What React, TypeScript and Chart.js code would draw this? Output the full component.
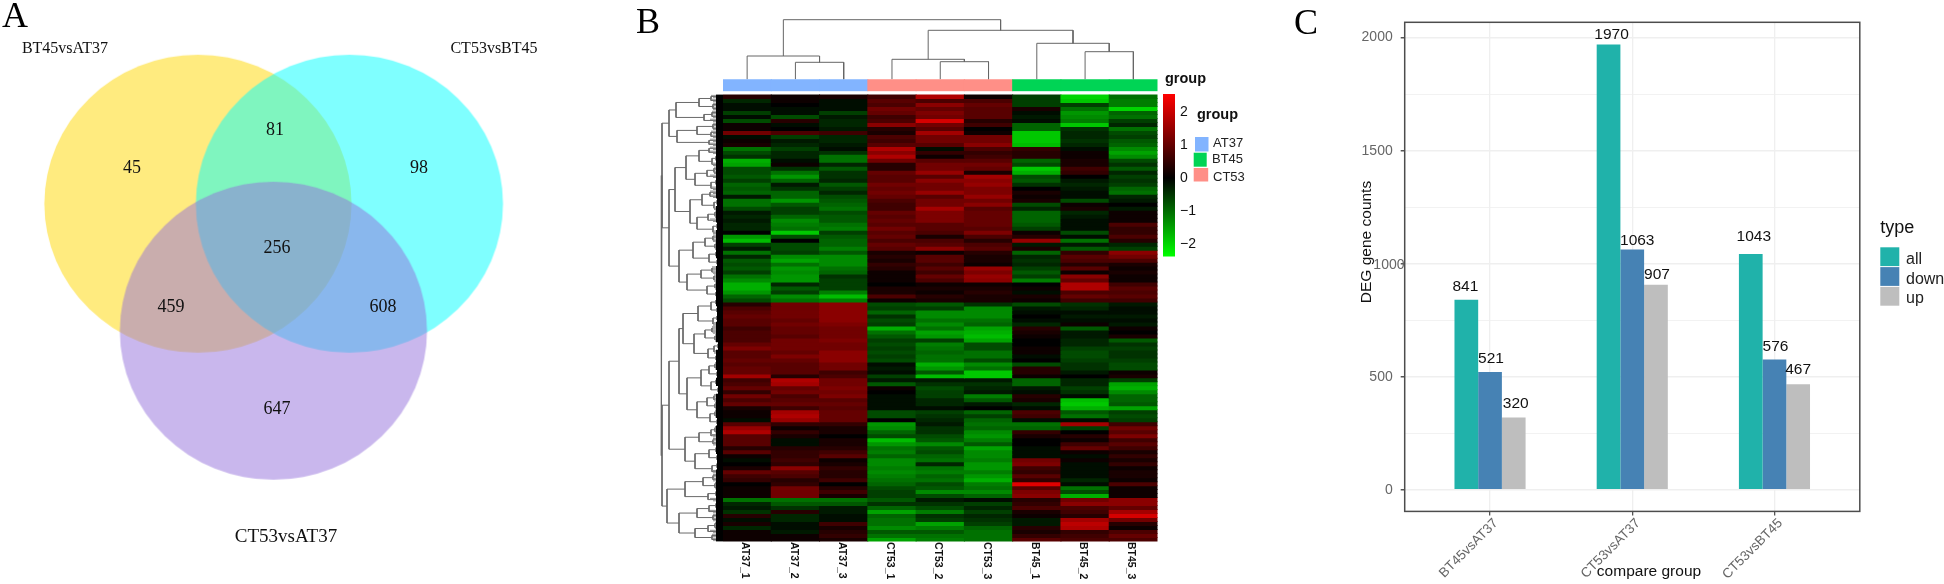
import React, { useEffect, useRef } from "react";
import { Chart, registerables } from "chart.js";

Chart.register(...registerables);

const SANS = "'Liberation Sans', Arial, sans-serif";
const SERIF = "'Liberation Serif', 'Times New Roman', serif";

/* ---------- Panel A: Venn ---------- */
const setNames = ["BT45vsAT37", "CT53vsBT45", "CT53vsAT37"];
const setColors = ["rgba(255,215,0,0.5)", "rgba(0,255,255,0.5)", "rgba(147,112,219,0.5)"];
const setCenters = [
  { x: 197.9, y: 203.7 },
  { x: 349.4, y: 203.7 },
  { x: 273.4, y: 330.7 },
];
const setLabelAnchors = [
  { x: 65, y: 49 },
  { x: 494, y: 49 },
  { x: 286, y: 537 },
];
const setLabelSizes = [16, 16, 19];
const regionCounts = ["45", "81", "98", "256", "459", "608", "647"];
const regionAnchors = [
  { x: 132, y: 168 },
  { x: 275, y: 130 },
  { x: 419, y: 168 },
  { x: 277, y: 248 },
  { x: 171, y: 307.5 },
  { x: 383, y: 307.5 },
  { x: 277, y: 409 },
];

/* ---------- Panel B: heatmap (values in tenths of a z-score, one per row band) ---------- */
const sampleNames = ["AT37_1", "AT37_2", "AT37_3", "CT53_1", "CT53_2", "CT53_3", "BT45_1", "BT45_2", "BT45_3"];
const AT37_1 = [
  3,-3,-1,-1,-5,-1,-6,1,1,9,-1,1,2,-9,-6,-4,-14,-13,-6,-6,-7,-5,-8,-7,-8,-2,-9,-9,
  -6,-2,-3,-2,-3,-3,0,-12,-15,-5,-2,-9,-3,-7,-6,-7,-5,-9,-11,-14,-14,-12,-8,-6,3,6,7,8,
  7,7,5,6,6,6,8,10,7,7,8,7,8,8,13,5,6,8,4,9,6,8,2,1,1,-1,7,12,
  14,7,7,7,3,7,1,-1,0,2,8,5,4,0,1,1,1,-9,-3,-2,-4,3,-1,2,-3,1,1,1,
];
const AT37_2 = [
  1,1,0,-1,-1,-6,3,-1,0,6,-5,-2,-3,-5,-3,-3,-1,1,-4,-9,-12,-8,-2,-4,-8,-8,-12,-7,
  -5,-5,-8,-11,-10,-9,-16,-6,0,-6,-6,-5,-11,-13,-9,-12,-11,-12,-12,-3,-7,-5,-11,-9,9,9,9,9,
  8,9,8,8,7,9,9,9,8,10,8,7,7,7,3,14,13,8,9,6,7,8,5,13,14,12,4,1,
  4,2,-1,-1,3,4,4,5,4,11,7,6,3,4,9,9,9,-9,-7,-4,3,-3,-3,-1,-1,-2,1,1,
];
const AT37_3 = [
  2,-1,-1,-1,-5,-2,-3,-3,-2,5,-3,-3,-2,-1,-4,-9,-9,-3,-7,-4,-4,-3,-7,-5,-3,-6,-7,-8,
  -9,-6,-7,-7,-9,-10,-5,-7,-8,-8,-10,-7,-11,-11,-11,-9,-8,-4,-5,-5,-5,-10,-15,-10,11,11,11,11,
  11,10,9,9,9,10,9,9,11,11,11,9,9,5,6,9,9,10,9,10,7,8,7,8,8,8,4,2,
  2,0,2,2,3,5,7,1,2,4,3,3,5,0,3,5,2,-9,-7,-2,-2,-1,-1,5,2,3,4,2,
];
const CT53_1 = [
  5,7,6,9,8,5,6,11,3,2,6,5,7,14,11,14,9,3,3,8,7,7,9,8,9,8,6,5,
  5,8,7,8,7,9,7,8,6,8,7,2,3,2,4,3,1,1,1,0,2,2,6,1,-6,-5,-8,-4,
  -6,-5,-14,-9,-7,-5,-6,-5,-6,-5,-6,-1,-2,-1,-5,-2,-7,1,0,-1,-1,-1,-1,-6,-6,0,-12,-11,
  -8,-6,-15,-12,-9,-10,-8,-11,-11,-10,-11,-10,-9,-8,-6,-5,-5,-7,-4,-8,-13,-8,-9,-9,-11,-7,-9,-13,
];
const CT53_2 = [
  14,6,11,8,10,9,17,9,7,13,9,9,7,-1,4,1,7,9,9,12,7,11,9,9,12,7,9,9,
  13,10,10,10,7,7,6,2,6,7,11,1,7,7,5,7,5,8,6,1,2,1,3,2,-7,-5,-11,-11,
  -9,-11,-9,-13,-12,-5,-10,-9,-8,-9,-9,-14,-12,-7,-15,-2,-4,-6,-5,-5,-3,-3,-1,-5,-4,-3,-2,-4,
  -4,-6,-7,-11,-7,-6,-8,-9,-3,-9,-10,-8,-9,-6,-7,-11,-6,-2,-4,-6,-10,-4,-5,-13,-10,-7,-9,-10,
];
const CT53_3 = [
  1,6,8,7,7,7,3,5,0,1,9,9,11,6,4,5,7,9,8,2,13,11,12,10,10,12,9,11,
  7,8,8,8,8,7,10,6,3,6,7,3,2,2,1,12,10,12,11,1,2,3,2,2,-4,-11,-11,-11,
  -9,-8,-13,-14,-15,-13,-6,-6,-9,-9,-6,-11,-9,-16,-16,-2,-4,-3,-2,-10,-7,-2,0,-8,-5,-8,-9,-8,
  -11,-12,-10,-7,-13,-11,-11,-10,-12,-12,-10,-12,-14,-10,-9,-11,-8,-1,-5,-3,-5,-3,-4,-5,-8,-9,-9,-9,
];
const BT45_1 = [
  -5,-5,-5,2,-1,-2,-1,-8,-8,-16,-16,-16,-15,4,3,3,-8,-6,-16,-14,-6,-7,-4,0,2,1,2,-6,
  -3,-8,-8,-8,-7,-5,1,3,12,-2,2,-8,-3,-4,-3,-5,-7,-5,-10,0,1,-1,2,1,-6,-2,-1,0,
  -1,-3,3,2,1,0,0,1,1,-1,0,-6,3,3,1,-8,-8,-2,-1,3,2,-3,-1,6,5,-1,-9,-8,
  4,2,0,0,-1,-1,-1,9,10,5,4,7,4,18,7,10,11,3,4,6,2,1,-2,-2,3,2,4,7,
];
const BT45_2 = [
  -17,-16,-5,-9,-12,-11,-10,-16,-4,-3,-3,-4,-3,-1,1,1,2,2,5,4,0,-2,-3,-2,-1,-1,-6,1,
  2,-3,-2,-1,-1,-1,-6,-1,-9,-2,-7,4,7,6,3,7,1,11,8,14,14,6,8,5,-4,-3,-1,-2,
  -1,1,-7,-2,-2,-3,-3,-5,-6,-6,-5,-4,-4,-2,0,-3,-3,-5,-4,-1,-15,-16,-14,-7,-9,-1,13,-5,
  0,3,1,5,8,1,-1,1,-1,-1,-1,-1,-3,-1,-9,-6,-14,9,11,6,5,3,13,15,14,4,5,6,
];
const BT45_3 = [
  -9,-10,-10,-17,-8,-9,-5,-3,-9,-6,-5,-7,-8,-11,-13,-11,-6,-4,-7,-3,-5,-4,-5,-8,-9,-3,-2,0,
  -2,1,1,1,6,4,4,6,3,-3,-5,11,9,6,2,1,2,1,1,5,7,6,7,5,-2,-1,-1,-2,
  -1,-2,1,0,2,-7,-4,-5,-4,-4,-5,-6,-6,1,2,-5,-13,-14,-11,-8,-8,-7,-13,-5,-6,-5,5,9,
  7,10,5,7,5,2,4,2,4,1,2,2,1,6,1,1,1,11,11,8,13,17,9,3,1,6,8,6,
];
const heatmapColumns = [AT37_1, AT37_2, AT37_3, CT53_1, CT53_2, CT53_3, BT45_1, BT45_2, BT45_3];

/* dendrograms: [merge height, child, child], 0 = a leaf */
const columnTree: any = [59.6, [23.3, 0, [17, 0, 0]], [49, [20, 0, [17.6, 0, 0]], [36, 0, [27.6, 0, 0]]]];
const rowTreeTop: any = [54,
  [47, [24, [12, 0, 0], [10, 0, 0]], [19, [11, 0, 0], 0]],
  [46, [26, [10, 0, 0], [12, 0, 0]], [14, 0, 0]],
];
const rowTreeMid: any = [54,
  [48,
    [37, [24, [14, 0, 0], [11, [7, 0, 0], 0]], [28, [16, [9, 0, 0], 0], [12, [7, 0, 0], 0]]],
    [33, [21, [13, 0, 0], [9, [6, 0, 0], 0]], [26, [15, [8, 0, 0], 0], [10, [6, 0, 0], 0]]],
  ],
  [44, [30, [18, [10, 0, 0], [8, 0, 0]], [14, [7, 0, 0], [6, 0, 0]]], [36, [22, [11, 0, 0], [9, 0, 0]], [16, [8, 0, 0], [7, 0, 0]]]],
];
const rowTreeLow: any = [54,
  [44,
    [40, [25, [12, [7, 0, 0], [6, 0, 0]], [10, [6, 0, 0], 0]], [29, [18, [11, 0, 0], [8, 0, 0]], [15, [9, [5, 0, 0], 0], [7, 0, 0]]]],
    [36, [22, [14, [8, 0, 0], [6, 0, 0]], [12, [7, 0, 0], [5, 0, 0]]], [26, [16, [9, 0, 0], [8, 0, 0]], [13, [8, 0, 0], [6, 0, 0]]]],
  ],
  [38, [24, [12, [8, 0, 0], 0], [10, 0, 0]], [28, [14, [7, 0, 0], [6, 0, 0]], [11, [6, 0, 0], 0]]],
];
const rowTreeBottom: any = [56,
  [38, [20, [10, 0, 0], [8, 0, 0]], [15, [7, 0, 0], 0]],
  [44, [26, [14, [7, 0, 0], 0], [10, 0, 0]], [28, [15, [8, 0, 0], 0], [11, 0, 0]]],
];
const rowTree: any = [62, [61, rowTreeTop, rowTreeMid], [61, rowTreeLow, rowTreeBottom]];

const groupNames = ["AT37", "BT45", "CT53"];
const groupColors: Record<string, string> = { AT37: "#82B4FF", BT45: "#00D455", CT53: "#FF8F87" };
const sampleGroups = ["AT37", "AT37", "AT37", "CT53", "CT53", "CT53", "BT45", "BT45", "BT45"];
const colorbarTicks = [-2, -1, 0, 1, 2];
const colorbarRange = [-2.39, 2.55];

/* ---------- Panel C: grouped bars ---------- */
const compareGroups = ["BT45vsAT37", "CT53vsAT37", "CT53vsBT45"];
const allCounts = [841, 1970, 1043];
const downCounts = [521, 1063, 576];
const upCounts = [320, 907, 467];
const typeNames = ["all", "down", "up"];
const typeColors = ["#20B2AA", "#4682B4", "#BEBEBE"];
const countTicks = [0, 250, 500, 750, 1000, 1250, 1500, 1750, 2000];
const labelLift = [[13.4, 9.7, 17], [13, 9, 13], [13.4, 10, 14]];
const labelShift = [[-1, 3, 3], [1, 5, 1], [2, 1, 0]];

/* ---------- helpers ---------- */
type Txt = { text: string; x: number; y: number; font: string; color?: string; align?: CanvasTextAlign; rotate?: number; base?: CanvasTextBaseline };
const textPlugin = (id: string, items: (chart: any) => Txt[]) => ({
  id,
  afterDraw(chart: any) {
    const c = chart.ctx;
    items(chart).forEach((t) => {
      c.save();
      c.translate(t.x, t.y);
      if (t.rotate) c.rotate(t.rotate);
      c.font = t.font;
      c.fillStyle = t.color || "#000";
      c.textAlign = t.align || "center";
      c.textBaseline = t.base || "middle";
      c.fillText(t.text, 0, 0);
      c.restore();
    });
  },
});

const treeLines = (tree: any, leafPos: (i: number) => number) => {
  const lines: any[] = [];
  const leaves: { pos: number; parent: number }[] = [];
  let n = 0;
  const walk = (t: any): { pos: number; h: number; leaf: boolean } => {
    if (t === 0) {
      const pos = leafPos(n++);
      return { pos, h: 0, leaf: true };
    }
    const [h, a, b] = t;
    const ca = walk(a);
    const cb = walk(b);
    lines.push({ p: ca.pos, h: ca.h }, { p: ca.pos, h }, { p: cb.pos, h }, { p: cb.pos, h: cb.h }, { p: NaN, h: NaN });
    if (ca.leaf) leaves.push({ pos: ca.pos, parent: h });
    if (cb.leaf) leaves.push({ pos: cb.pos, parent: h });
    return { pos: (ca.pos + cb.pos) / 2, h, leaf: false };
  };
  walk(tree);
  return { lines, leaves };
};

const hidden = { display: false };
const base = (padding: any) => ({
  responsive: false,
  maintainAspectRatio: false,
  animation: false as const,
  events: [] as any[],
  layout: { padding, autoPadding: false },
  plugins: { legend: hidden, tooltip: { enabled: false }, title: hidden },
});

const heatColor = (v: number) => {
  const level = Math.min(255, Math.round(Math.abs(v) * 12.5));
  return v >= 0 ? `rgb(${level},0,0)` : `rgb(0,${level},0)`;
};

const ellipseImage = (rx: number, ry: number, color: string) => {
  const cv = document.createElement("canvas");
  cv.width = Math.ceil(rx * 2) + 2;
  cv.height = Math.ceil(ry * 2) + 2;
  const c = cv.getContext("2d")!;
  c.fillStyle = color;
  c.beginPath();
  c.ellipse(cv.width / 2, cv.height / 2, rx, ry, 0, 0, Math.PI * 2);
  c.fill();
  return cv;
};

/* ---------- chart configs ---------- */
const vennConfig = () => ({
  type: "scatter",
  data: {
    datasets: setCenters.map((c, i) => ({
      label: setNames[i],
      data: [c],
      pointStyle: ellipseImage(153.6, 149, setColors[i]),
      clip: false,
      order: setCenters.length - i,
    })),
  },
  options: {
    ...base(0),
    scales: {
      x: { type: "linear", display: false, min: 0, max: 620 },
      y: { type: "linear", display: false, min: 0, max: 584, reverse: true },
    },
  },
  plugins: [
    textPlugin("vennText", (chart) => {
      const sx = chart.scales.x;
      const sy = chart.scales.y;
      return [
        { text: "A", x: 2, y: 27, font: `36px ${SERIF}`, align: "left" as const, base: "alphabetic" as const },
        ...setNames.map((t, i) => ({
          text: t,
          x: sx.getPixelForValue(setLabelAnchors[i].x),
          y: sy.getPixelForValue(setLabelAnchors[i].y),
          font: `${setLabelSizes[i]}px ${SERIF}`,
          color: "#111",
        })),
        ...regionCounts.map((t, i) => ({
          text: t,
          x: sx.getPixelForValue(regionAnchors[i].x),
          y: sy.getPixelForValue(regionAnchors[i].y),
          font: `18px ${SERIF}`,
          color: "#111",
        })),
      ];
    }),
  ],
});

const topDendroConfig = () => {
  const { lines } = treeLines(columnTree, (i) => i + 0.5);
  return {
    type: "scatter",
    data: {
      datasets: [
        {
          data: lines.map((l) => ({ x: l.p, y: l.h })),
          showLine: true,
          spanGaps: false,
          borderColor: "#666",
          borderWidth: 1,
          pointRadius: 0,
          clip: false,
        },
      ],
    },
    options: {
      ...base({ left: 103, right: 2.5, top: 9.3, bottom: 0.7 }),
      scales: {
        x: { type: "linear", display: false, min: 0, max: 9 },
        y: { type: "linear", display: false, min: 0, max: 70 },
      },
    },
    plugins: [
      textPlugin("bLetter", () => [
        { text: "B", x: 16, y: 33, font: `36px ${SERIF}`, align: "left" as const, base: "alphabetic" as const },
      ]),
    ],
  };
};

const annotationConfig = () => ({
  type: "bar",
  data: {
    labels: sampleNames,
    datasets: [
      {
        data: sampleNames.map(() => [0, 1]),
        backgroundColor: sampleGroups.map((g) => groupColors[g]),
        barPercentage: 1,
        categoryPercentage: 1,
        inflateAmount: 0.5,
      },
    ],
  },
  options: {
    ...base({ left: 0, right: 0.5, top: 0.3, bottom: 0.7 }),
    scales: {
      x: { display: false },
      y: { display: false, min: 0, max: 1 },
    },
  },
});

const heatmapConfig = () => {
  const rows = AT37_1.map((_, r) => r);
  return {
    type: "bar",
    data: {
      labels: sampleNames,
      datasets: rows.map((r) => ({
        label: `row ${r + 1}`,
        data: sampleNames.map(() => [r, r + 1]),
        backgroundColor: heatmapColumns.map((col) => heatColor(col[r])),
        grouped: false,
        barPercentage: 1,
        categoryPercentage: 1,
        inflateAmount: 0.5,
      })),
    },
    options: {
      ...base({ left: 0, right: 0.5, top: 0.5, bottom: 42.5 }),
      scales: {
        x: { display: false },
        y: { display: false, min: 0, max: rows.length, reverse: true },
      },
    },
    plugins: [
      textPlugin("sampleText", (chart) =>
        sampleNames.map((t, i) => ({
          text: t,
          x: chart.scales.x.getPixelForValue(i) - 2,
          y: chart.chartArea.bottom + 0.5,
          font: `bold 10.5px ${SANS}`,
          color: "#111",
          align: "left" as const,
          rotate: Math.PI / 2,
        }))
      ),
    ],
  };
};

const leftDendroConfig = () => {
  const { lines, leaves } = treeLines(rowTree, (i) => i + 0.5);
  const band: any[] = [];
  const strands: any[] = [];
  leaves.forEach((l) => {
    band.push({ x: Math.min(7, l.parent), y: l.pos }, { x: 0, y: l.pos }, { x: NaN, y: NaN });
    strands.push(
      { x: Math.min(13, l.parent), y: l.pos - 0.3 }, { x: 0, y: l.pos - 0.3 }, { x: NaN, y: NaN },
      { x: Math.min(10, l.parent), y: l.pos + 0.3 }, { x: 0, y: l.pos + 0.3 }, { x: NaN, y: NaN }
    );
  });
  return {
    type: "scatter",
    data: {
      datasets: [
        {
          data: band,
          showLine: true,
          spanGaps: false,
          borderColor: "#000",
          borderWidth: 4.4,
          pointRadius: 0,
        },
        {
          data: strands,
          showLine: true,
          spanGaps: false,
          borderColor: "#8a8a8a",
          borderWidth: 1,
          pointRadius: 0,
        },
        {
          data: lines.map((l) => ({ x: l.h, y: l.p })),
          showLine: true,
          spanGaps: false,
          borderColor: "#6a6a6a",
          borderWidth: 1,
          pointRadius: 0,
        },
      ],
    },
    options: {
      ...base({ top: 0.5, bottom: 0.5, left: 0, right: 0 }),
      scales: {
        x: { type: "linear", display: false, min: 0, max: 68, reverse: true },
        y: { type: "linear", display: false, min: 0, max: 112, reverse: true },
      },
    },
  };
};

const colorbarConfig = () => ({
  type: "bar",
  data: {
    labels: ["scale"],
    datasets: [
      {
        data: [colorbarRange],
        barPercentage: 1,
        categoryPercentage: 1,
        backgroundColor: (ctx: any) => {
          const { chart } = ctx;
          const y = chart.scales.y;
          const area = chart.chartArea;
          if (!area || !y) return "#000";
          const g = chart.ctx.createLinearGradient(0, area.top, 0, area.bottom);
          g.addColorStop(0, "#FF0000");
          g.addColorStop((y.getPixelForValue(0) - area.top) / (area.bottom - area.top), "#000000");
          g.addColorStop(1, "#00FF00");
          return g;
        },
      },
    ],
  },
  options: {
    ...base({ left: 3, top: 34, bottom: 7, right: 0 }),
    scales: {
      x: { display: false },
      y: {
        position: "right",
        min: colorbarRange[0],
        max: colorbarRange[1],
        afterBuildTicks: (s: any) => {
          s.ticks = colorbarTicks.map((value) => ({ value }));
        },
        afterFit: (s: any) => {
          s.width = 105;
        },
        grid: { display: false, drawTicks: false },
        border: { display: false },
        ticks: {
          padding: 5,
          font: { family: "Liberation Sans", size: 14 },
          color: "#111",
          callback: (v: any) => (v < 0 ? `\u2212${-v}` : `${v}`),
        },
      },
    },
  },
  plugins: [
    {
      id: "groupLegend",
      afterDraw(chart: any) {
        const c = chart.ctx;
        const swatches = [
          { x: 35, y: 77, w: 13.5, h: 14.5 },
          { x: 33.7, y: 92.7, w: 13, h: 14 },
          { x: 33.7, y: 108, w: 14.5, h: 13.5 },
        ];
        groupNames.forEach((g, i) => {
          c.fillStyle = groupColors[g];
          c.fillRect(swatches[i].x, swatches[i].y, swatches[i].w, swatches[i].h);
        });
      },
    },
    textPlugin("groupText", () => [
      { text: "group", x: 5, y: 19, font: `bold 14.5px ${SANS}`, align: "left" as const, color: "#111" },
      { text: "group", x: 37, y: 55, font: `bold 14.5px ${SANS}`, align: "left" as const, color: "#111" },
      ...groupNames.map((g, i) => ({
        text: g,
        x: [53, 52, 53][i],
        y: [83, 99.7, 117][i],
        font: `13px ${SANS}`,
        align: "left" as const,
        color: "#222",
      })),
    ]),
  ],
});

const barConfig = () => {
  const series = [allCounts, downCounts, upCounts];
  return {
    type: "bar",
    data: {
      labels: [1, 2, 3],
      datasets: series.map((values, i) => ({
        label: typeNames[i],
        data: values.map((y, k) => ({ x: k + 1, y })),
        backgroundColor: typeColors[i],
        barPercentage: 1,
        categoryPercentage: 0.5,
      })),
    },
    options: {
      ...base({ left: 54.7, right: 84.2, top: 22.3, bottom: 0.6 }),
      scales: {
        x: {
          type: "linear",
          offset: false,
          min: 0.4,
          max: 3.6,
          afterBuildTicks: (s: any) => {
            s.ticks = compareGroups.map((_, i) => ({ value: i + 1 }));
          },
          afterFit: (s: any) => {
            s.height = 72;
          },
          grid: { color: "#EFEFEF", lineWidth: 1.3, tickColor: "#555", tickLength: 4, offset: false },
          border: { display: false },
          ticks: {
            autoSkip: false,
            minRotation: 45,
            maxRotation: 45,
            padding: 0,
            labelOffset: 6,
            color: "#666",
            font: { family: "Liberation Sans", size: 13.5 },
            callback: (v: any) => compareGroups[v - 1] ?? "",
          },
        },
        y: {
          min: -95.5,
          max: 2067.7,
          afterBuildTicks: (s: any) => {
            s.ticks = countTicks.map((value) => ({ value }));
          },
          afterFit: (s: any) => {
            s.width = 60;
          },
          grid: {
            color: "#EFEFEF",
            lineWidth: (c: any) => (c.tick && c.tick.value % 500 === 0 ? 1.5 : 0.8),
            tickColor: (c: any) => (c.tick && c.tick.value % 500 === 0 ? "#555" : "rgba(0,0,0,0)"),
            tickLength: 4,
          },
          border: { display: false },
          ticks: {
            padding: 8,
            color: "#666",
            font: { family: "Liberation Sans", size: 14 },
            callback: (v: any) => (v % 500 === 0 && v !== 1000 ? `${v}` : ""),
          },
        },
      },
    },
    plugins: [
      {
        id: "frameAndLegend",
        afterDraw(chart: any) {
          const c = chart.ctx;
          const a = chart.chartArea;
          c.save();
          c.strokeStyle = "#4d4d4d";
          c.lineWidth = 1.5;
          c.strokeRect(a.left, a.top, a.right - a.left, a.bottom - a.top);
          typeColors.forEach((col, i) => {
            c.fillStyle = col;
            c.fillRect(590.3, 247.3 + i * 19.8, 19, 18.8);
          });
          c.restore();
        },
      },
      textPlugin("barText", (chart) => {
        const labels: Txt[] = [];
        series.forEach((values, i) => {
          const meta = chart.getDatasetMeta(i);
          values.forEach((v, k) => {
            labels.push({
              text: `${v}`,
              x: meta.data[k].x + labelShift[i][k],
              y: meta.data[k].y - labelLift[i][k],
              font: `15.5px ${SANS}`,
              color: "#111",
            });
          });
        });
        return [
          ...labels,
          { text: "C", x: 4, y: 33.5, font: `36px ${SERIF}`, align: "left" as const, base: "alphabetic" as const },
          { text: "1000", x: 114.5, y: chart.scales.y.getPixelForValue(1000) + 1.5, font: `14px ${SANS}`, color: "#666", align: "right" as const },
          { text: "DEG gene counts", x: 77, y: 242, font: `15.5px ${SANS}`, color: "#111", rotate: -Math.PI / 2 },
          { text: "compare group", x: 359, y: 571.5, font: `15.5px ${SANS}`, color: "#111" },
          { text: "type", x: 590.3, y: 228, font: `18px ${SANS}`, color: "#111", align: "left" as const },
          ...typeNames.map((t, i) => ({
            text: t,
            x: 616,
            y: 259.5 + i * 19.7,
            font: `16px ${SANS}`,
            color: "#222",
            align: "left" as const,
          })),
        ];
      }),
    ],
  };
};

const panels = [
  { left: 0, top: 0, width: 620, height: 584, make: vennConfig },
  { left: 620, top: 0, width: 540, height: 80, make: topDendroConfig },
  { left: 723, top: 79, width: 435, height: 13, make: annotationConfig },
  { left: 723, top: 94, width: 435, height: 490, make: heatmapConfig },
  { left: 655, top: 94, width: 68, height: 448, make: leftDendroConfig },
  { left: 1160, top: 60, width: 120, height: 210, make: colorbarConfig },
  { left: 1290, top: 0, width: 654, height: 584, make: barConfig },
];

export default function App() {
  const refs = useRef<(HTMLCanvasElement | null)[]>([]);
  useEffect(() => {
    const charts = panels.map((p, i) => new Chart(refs.current[i] as HTMLCanvasElement, p.make() as any));
    return () => charts.forEach((c) => c.destroy());
  }, []);
  return (
    <div style={{ position: "absolute", left: 0, top: 0, width: 1944, height: 584, overflow: "hidden", background: "#fff" }}>
      {panels.map((p, i) => (
        <canvas
          key={i}
          ref={(el) => {
            refs.current[i] = el;
          }}
          width={p.width}
          height={p.height}
          style={{ position: "absolute", left: p.left, top: p.top, width: p.width, height: p.height }}
        />
      ))}
    </div>
  );
}
